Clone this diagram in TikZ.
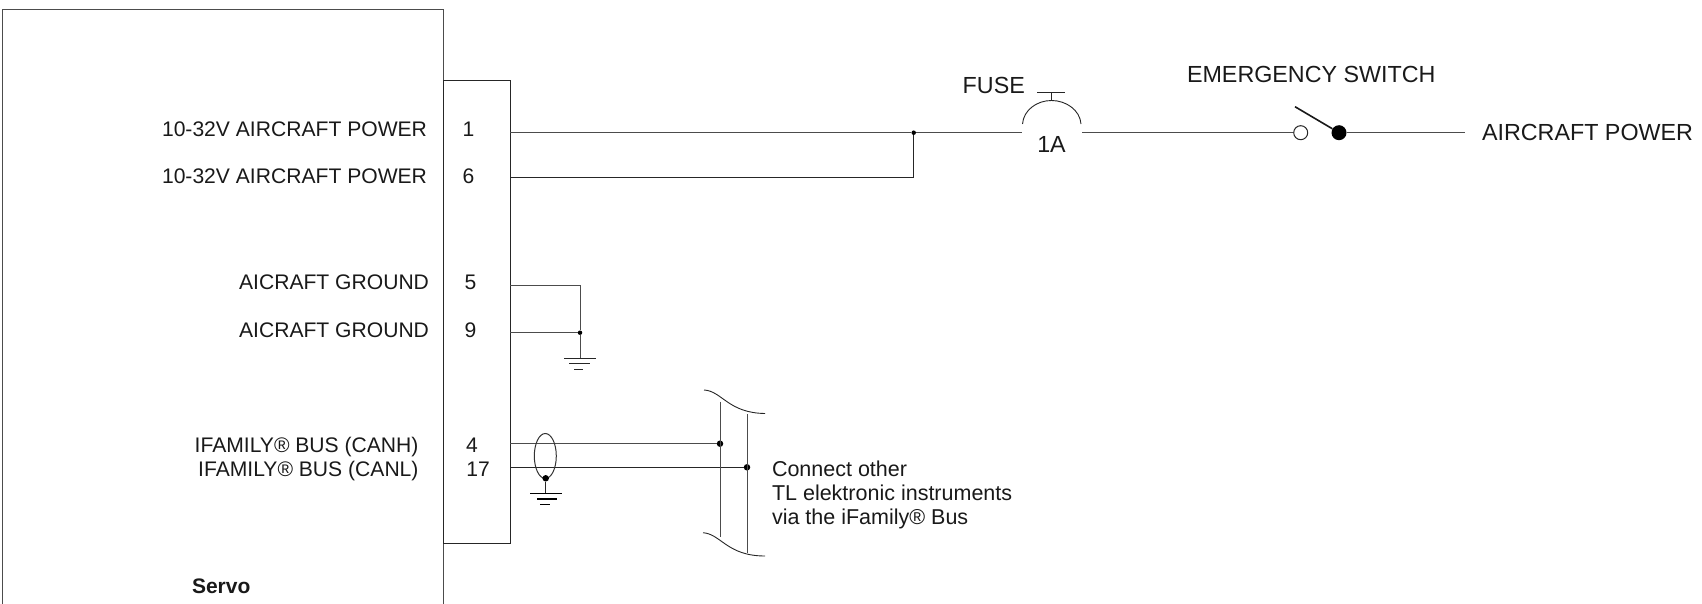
\documentclass[tikz,border=0pt]{standalone}
\usepackage{fontspec}
\usetikzlibrary{shapes.geometric}
\setmainfont{Liberation Sans}
\tikzset{
  lbl/.style={inner sep=0pt,outer sep=0pt,font=\fontsize{21.1}{24}\selectfont,text=black!90},
  big/.style={font=\fontsize{23.3}{26}\selectfont},
  lblr/.style={lbl,anchor=base east},
  lbll/.style={lbl,anchor=base west},
  lblc/.style={lbl,anchor=base},
  wire/.style={draw=black!70,line width=1pt},
  thin wire/.style={draw=black!85,line width=0.9pt},
  junction/.style={circle,fill=black,inner sep=0pt,minimum size=#1},
  junction/.default=5pt
}
\begin{document}
\begin{tikzpicture}[x=1pt,y=-1pt]
\useasboundingbox (0,0) rectangle (1702,604);
% boxes
\coordinate (mainBL) at (2,604);
\coordinate (mainTL) at (2,10);
\coordinate (mainTR) at (443,10);
\coordinate (mainBR) at (443,604);
\coordinate (connTL) at (443,80);
\coordinate (connTR) at (510.3,80);
\coordinate (connBR) at (510.3,543.5);
\coordinate (connBL) at (443,543.5);
\draw[wire] (mainBL) -- (mainTL) -- (mainTR) -- (mainBR);
\draw[thin wire] (connTL) -- (connTR) -- (connBR) -- (connBL) -- cycle;
% power
\coordinate (p1) at (510.3,132.7);
\coordinate (p6) at (510.3,177);
\coordinate (fuseL) at (1021.7,132.7);
\coordinate (fuseR) at (1082,132.7);
\coordinate (arcL) at (1022.5,124);
\coordinate (arcR) at (1081,124);
\coordinate (fuseTop) at (1051.5,100.5);
\coordinate (capTop) at (1051.5,92);
\coordinate (capL) at (1037,92);
\coordinate (capR) at (1065,92);
\coordinate (powEnd) at (1465,132.7);
\node[junction=4.5pt] (jp) at (913.7,132.7) {};
\node[circle,draw=black!85,fill=white,line width=1pt,inner sep=0pt,minimum size=14pt] (swO) at (1300.7,132.7) {};
\node[junction=15pt] (swF) at (1339,132.7) {};
\coordinate (lever) at (1295,106.7);
\draw[wire] (p1) -- (jp) -- (fuseL);
\draw[thin wire] (p6) -| (jp);
\draw[wire] (fuseR) -- (swO);
\draw[wire] (swF) -- (powEnd);
\draw[draw=black!90,line width=1.6pt] (lever) -- (swF);
\draw[thin wire] (arcL) .. controls (1023.5,110) and (1037,100.5) .. (fuseTop) .. controls (1066,100.5) and (1080,110) .. (arcR);
\draw[thin wire] (fuseTop) -- (capTop);
\draw[thin wire] (capL) -- (capR);
% ground
\coordinate (g5) at (510.3,285);
\coordinate (g9) at (510.3,332.7);
\coordinate (gnd) at (580,358.7);
\node[junction=4.5pt] (jg) at (580,332.7) {};
\draw[wire] (g5) -| (jg);
\draw[wire] (g9) -- (jg);
\draw[wire] (jg) -- (gnd);
\draw[thin wire] (564,358.7) -- (595.5,358.7);
\draw[thin wire] (569,363.7) -- (590,363.7);
\draw[thin wire] (574,369) -- (583,369);
% bus
\coordinate (b4) at (510.3,443.7);
\coordinate (b17) at (510.3,467.3);
\node[junction=6.5pt] (j4) at (720,443.7) {};
\node[junction=6.5pt] (j17) at (747,467.3) {};
\draw[wire] (b4) -- (j4);
\draw[thin wire] (b17) -- (j17);
\node[ellipse,draw=black!80,line width=1pt,inner sep=0pt,minimum width=22pt,minimum height=45pt] (shield) at (545.3,456) {};
\node[junction=6.5pt] (js) at (545.7,478.3) {};
\coordinate (sgnd) at (545.7,493.7);
\draw[thin wire] (js) -- (sgnd);
\draw[draw=black,line width=1.4pt] (530,493.7) -- (562,493.7);
\draw[draw=black,line width=1.4pt] (537,499) -- (557,499);
\draw[draw=black,line width=1.4pt] (540,504.6) -- (550,504.6);
% bus break
\coordinate (t1) at (720,401.7);
\coordinate (t2) at (747,414);
\coordinate (u1) at (720,536.7);
\coordinate (u2) at (747,552.7);
\draw[wire] (t1) -- (u1);
\draw[wire] (t2) -- (u2);
\draw[thin wire] (704,390) .. controls (722,391) and (728,413) .. (765,413.5);
\draw[thin wire] (703,532.7) .. controls (721,534) and (727,556) .. (765,556);
% labels
\node[lblr] (l1) at (427,136.7) {10-32V AIRCRAFT POWER};
\node[lblr] (l6) at (427,184) {10-32V AIRCRAFT POWER};
\node[lblr] (l5) at (429,289) {AICRAFT GROUND};
\node[lblr] (l9) at (429,337) {AICRAFT GROUND};
\node[lblr] (l4) at (418.5,452.3) {IFAMILY® BUS (CANH)};
\node[lblr] (l17) at (418.5,476.3) {IFAMILY® BUS (CANL)};
\node[lblc] (n1) at (468.5,136.7) {1};
\node[lblc] (n6) at (468.5,184) {6};
\node[lblc] (n5) at (470.5,289) {5};
\node[lblc] (n9) at (470.5,337) {9};
\node[lblc] (n4) at (472,452.3) {4};
\node[lblc] (n17) at (478,476.3) {17};
\node[lbll,font=\fontsize{21}{24}\selectfont\bfseries] (servo) at (192,593.5) {Servo};
\node[lbll,big] (fuse) at (962.7,93.5) {FUSE};
\node[lblc,big] (fa) at (1051.5,152.5) {1A};
\node[lbll,big] (em) at (1187,82.5) {EMERGENCY SWITCH};
\node[lbll,big] (ap) at (1482,140.5) {AIRCRAFT POWER};
\node[lbll,font=\fontsize{21.5}{24}\selectfont] (c1) at (772,476.7) {Connect other};
\node[lbll,font=\fontsize{21.5}{24}\selectfont] (c2) at (772,500.7) {TL elektronic instruments};
\node[lbll,font=\fontsize{21.5}{24}\selectfont] (c3) at (772,524.7) {via the iFamily® Bus};
\end{tikzpicture}
\end{document}
